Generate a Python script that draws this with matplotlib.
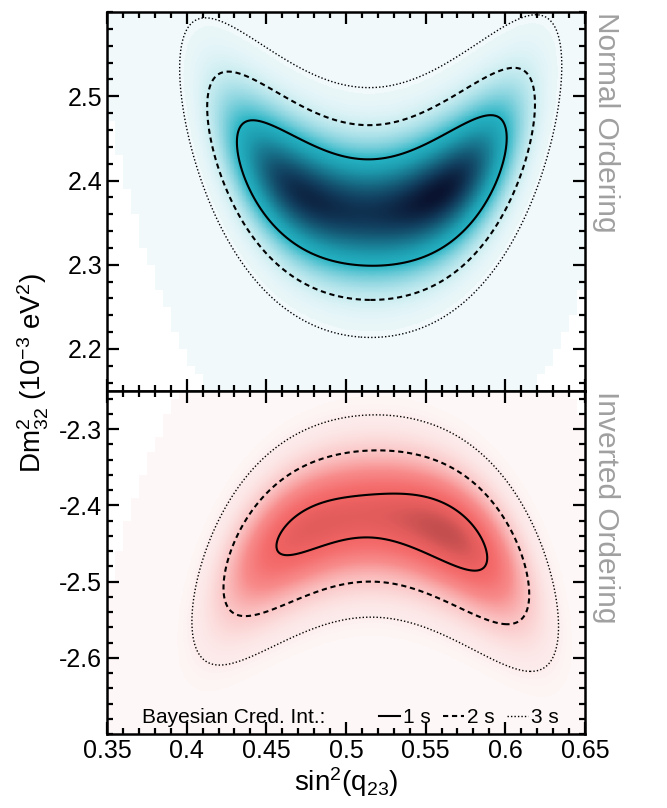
import numpy as np
import matplotlib
matplotlib.use('Agg')
import matplotlib.pyplot as plt
from matplotlib.colors import LinearSegmentedColormap
from matplotlib.lines import Line2D
from matplotlib.ticker import MultipleLocator, FormatStrFormatter

plt.rcParams['font.family'] = ['Liberation Sans', 'DejaVu Sans']
plt.rcParams['mathtext.default'] = 'regular'
plt.rcParams['axes.unicode_minus'] = False

# posterior shape, one entry per mass ordering
orderings = ['Normal Ordering', 'Inverted Ordering']
octant_centre = [0.515, 0.517]      # sin^2(theta23) symmetry point
sin2_deficit = [0.0061, 0.0061]     # 1 - best sin^2(2 theta23)
sin2_width = [0.0148, 0.0168]
octant_tilt = [1.0, 1.8]            # preference for the upper octant
dm_centre = [2.362, -2.414]         # ridge of dm^2_32 at maximal mixing
dm_curvature = [12.0, -10.7]
dm_width = [0.043, 0.048]
# 3, 2, 1 sigma credible contours as a fraction of the peak density
cred_levels = [[0.0023, 0.048, 0.30], [0.019, 0.174, 0.73]]
cred_labels = ['1 s', '2 s', '3 s']
empty_cut = [np.exp(-32), np.exp(-26)]   # below this no samples -> white

y_limits = [(2.15, 2.6), (-2.7, -2.25)]
y_ticks = [[2.2, 2.3, 2.4, 2.5], [-2.6, -2.5, -2.4, -2.3]]
x_ticks = [0.35, 0.4, 0.45, 0.5, 0.55, 0.6, 0.65]

cmaps = [
    LinearSegmentedColormap.from_list('no', [(0, '#f1f9fb'), (0.0023, '#eaf7f9'), (0.048, '#c8ecf1'),
                                             (0.15, '#86d3de'), (0.30, '#24b3c3'), (0.45, '#1e9db0'),
                                             (0.65, '#176d86'), (0.85, '#113a5a'), (1, '#0a1430')]),
    LinearSegmentedColormap.from_list('io', [(0, '#fdf8f7'), (0.019, '#fdecec'), (0.174, '#fbc6c6'),
                                             (0.4, '#f88c8c'), (0.6, '#f57070'), (0.73, '#f26464'),
                                             (0.88, '#e25c5c'), (1, '#c44e4e')]),
]
for cm in cmaps:
    cm.set_bad('white')


def posterior(i, x, y):
    u = x - octant_centre[i]
    a = (4 * u ** 2 - sin2_deficit[i]) / sin2_width[i]
    v = y - (dm_centre[i] + dm_curvature[i] * u ** 2)
    return np.exp(-0.5 * a ** 2 + octant_tilt[i] * u - 0.5 * (v / dm_width[i]) ** 2)


fig = plt.figure(figsize=(6.67, 8.08), dpi=100)
gs = fig.add_gridspec(2, 1, left=0.1604, right=0.877, top=0.985, bottom=0.0916,
                      hspace=0, height_ratios=[379, 343])
axs = [fig.add_subplot(gs[0]), fig.add_subplot(gs[1])]

# fine grid for the shading, binned 10x10 to mimic the empty (unsampled) cells
xs = np.linspace(0.35, 0.65, 600)
for i, ax in enumerate(axs):
    ys = np.linspace(y_limits[i][0], y_limits[i][1], 450)
    X, Y = np.meshgrid(xs, ys)
    p = posterior(i, X, Y)
    p = p / p.max()
    coarse = p.reshape(45, 10, 60, 10).max(axis=(1, 3))
    empty = np.repeat(np.repeat(coarse < empty_cut[i], 10, axis=0), 10, axis=1)
    shade = np.ma.masked_where(empty, p)
    ax.imshow(shade, extent=[xs[0], xs[-1], ys[0], ys[-1]], origin='lower', aspect='auto',
              cmap=cmaps[i], vmin=0, vmax=1, interpolation='nearest')
    ax.contour(X, Y, p, levels=cred_levels[i], colors='black',
               linewidths=[1.0, 1.5, 1.5],
               linestyles=[(0, (1, 1.5)), (0, (2.5, 1.8)), 'solid'])

    ax.set_xlim(0.35, 0.65)
    ax.set_ylim(*y_limits[i])
    ax.set_xticks(x_ticks)
    ax.xaxis.set_minor_locator(MultipleLocator(0.01))
    ax.xaxis.set_major_formatter(FormatStrFormatter('%g'))
    ax.set_yticks(y_ticks[i])
    ax.yaxis.set_minor_locator(MultipleLocator(0.02))
    ax.yaxis.set_major_formatter(FormatStrFormatter('%g'))
    ax.tick_params(which='both', direction='in', top=True, right=True, labelsize=18, width=1.6)
    ax.tick_params(which='major', length=8.5)
    ax.tick_params(which='minor', length=4.5)
    for s in ax.spines.values():
        s.set_linewidth(1.8)
    ax.text(1.015, 1.0, orderings[i], transform=ax.transAxes, rotation=270, va='top', ha='left',
            fontsize=21.5, color='#a0a0a0')

axs[0].tick_params(labelbottom=False)
axs[1].set_xlabel(r'sin$^2$(q$_{23}$)', fontsize=20, labelpad=2)
fig.text(0.05, 0.538, r'Dm$^2_{32}$ (10$^{-3}$ eV$^2$)', rotation=90, va='center', ha='center',
         fontsize=20)

handles = [Line2D([], [], color='black', lw=1.5, ls='solid'),
           Line2D([], [], color='black', lw=1.5, ls=(0, (2.5, 1.8))),
           Line2D([], [], color='black', lw=1.0, ls=(0, (1, 1.5)))]
axs[1].legend(handles, cred_labels, ncol=3, loc='center right', bbox_to_anchor=(0.945, 0.047),
              frameon=False, fontsize=15, handlelength=1.0, handletextpad=0.15, columnspacing=0.6,
              borderpad=0, borderaxespad=0)
axs[1].text(0.073, 0.047, 'Bayesian Cred. Int.:', transform=axs[1].transAxes, va='center', ha='left',
            fontsize=15)

fig.savefig('out.png', dpi=100)
